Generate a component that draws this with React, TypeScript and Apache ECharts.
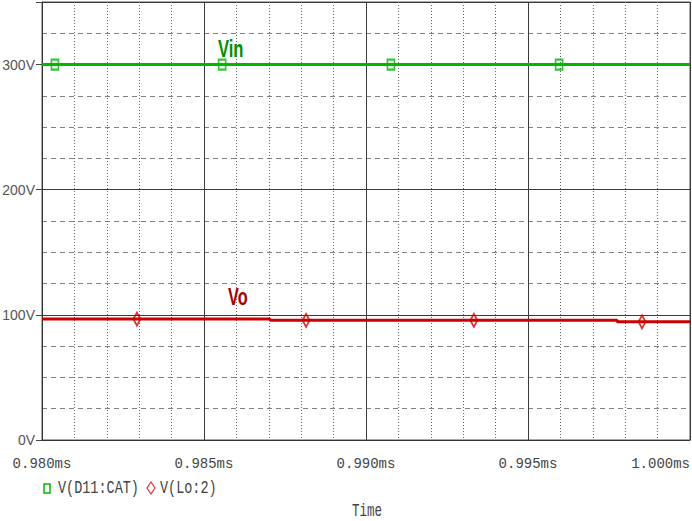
import React, { useEffect, useRef } from "react";
import * as echarts from "echarts";

// time in microseconds (0.980ms .. 1.000ms)
const xMin = 980;
const xMax = 1000;
const xTickStep = 5;
const yMin = 0;
const yMax = 350;
const yTickStep = 100;
const yMinorStep = 25;

// V(D11:CAT) — Vin
const vinLine: [number, number][] = [
  [980, 300],
  [1000, 300],
];
const vinMarkers: [number, number][] = [
  [980.4, 300],
  [985.56, 300],
  [990.77, 300],
  [995.96, 300],
];

// V(Lo:2) — Vo
const voLine: [number, number][] = [
  [980, 96.6],
  [987.04, 96.6],
  [987.04, 95.6],
  [997.75, 95.6],
  [997.75, 94.4],
  [1000, 94.4],
];
const voMarkers: [number, number][] = [
  [982.93, 96.6],
  [988.15, 95.6],
  [993.33, 95.6],
  [998.52, 94.4],
];

const legendNames = ["V(D11:CAT)", "V(Lo:2)"];
const xTitle = "Time";

const GREEN = "#00b800";
const RED = "#cc0000";

export default function App() {
  const ref = useRef<HTMLDivElement>(null);
  useEffect(() => {
    if (!ref.current) return;
    const chart = echarts.init(ref.current, undefined, { renderer: "svg" });
    const monoFont = "'Liberation Mono', 'DejaVu Sans Mono', monospace";
    const sansFont = "'Liberation Sans', Arial, sans-serif";
    chart.setOption({
      animation: false,
      backgroundColor: "#ffffff",
      grid: {
        left: 42,
        right: 2,
        top: 2,
        bottom: 81,
        show: true,
        borderColor: "#555555",
        borderWidth: 1,
        backgroundColor: "#ffffff",
        containLabel: false,
        outerBoundsMode: "none",
      },
      xAxis: {
        type: "value",
        min: xMin,
        max: xMax,
        interval: xTickStep,
        axisLine: { show: true, lineStyle: { color: "#333333", width: 1 } },
        axisTick: { show: false },
        axisLabel: {
          margin: 17,
          fontFamily: monoFont,
          fontSize: 14,
          color: "#444444",
          formatter: (v: number) => (v / 1000).toFixed(3) + "ms",
          showMinLabel: true,
          showMaxLabel: true,
          hideOverlap: false,
          alignMaxLabel: "right",
        },
        splitLine: { show: true, lineStyle: { color: "#3a3a3a", width: 1 } },
        minorTick: { show: false, splitNumber: 5 },
        minorSplitLine: {
          show: true,
          lineStyle: { color: "#666666", width: 1, type: [1, 2] },
        },
      },
      yAxis: [
        {
          type: "value",
          min: yMin,
          max: yMax,
          interval: yMinorStep,
          position: "left",
          axisLine: { show: false },
          axisTick: { show: false },
          axisLabel: { show: false },
          splitLine: {
            show: true,
            lineStyle: { color: "#808080", width: 1, type: [5, 4] },
          },
        },
        {
          type: "value",
          min: yMin,
          max: yMax,
          interval: yTickStep,
          position: "left",
          axisLine: { show: true, lineStyle: { color: "#333333", width: 1 } },
          axisTick: {
            show: true,
            length: 6,
            inside: false,
            lineStyle: { color: "#444444", width: 1 },
          },
          axisLabel: {
            margin: 7,
            fontFamily: sansFont,
            fontSize: 14,
            color: "#555555",
            formatter: (v: number) => (v % 100 === 0 ? v + "V" : ""),
          },
          splitLine: { show: true, lineStyle: { color: "#3a3a3a", width: 1 } },
        },
      ],
      series: [
        {
          name: legendNames[0],
          type: "line",
          yAxisIndex: 1,
          data: vinLine,
          showSymbol: false,
          lineStyle: { color: GREEN, width: 3 },
          z: 3,
        },
        {
          name: legendNames[0] + " markers",
          type: "scatter",
          yAxisIndex: 1,
          data: vinMarkers,
          symbol: "rect",
          symbolSize: [7, 10],
          itemStyle: { color: "rgba(0,0,0,0)", borderColor: GREEN, borderWidth: 2 },
          z: 4,
        },
        {
          name: legendNames[1],
          type: "line",
          yAxisIndex: 1,
          data: voLine,
          showSymbol: false,
          lineStyle: { color: RED, width: 3 },
          z: 3,
        },
        {
          name: legendNames[1] + " markers",
          type: "scatter",
          yAxisIndex: 1,
          data: voMarkers,
          symbol: "diamond",
          symbolSize: [7, 13],
          itemStyle: { color: "rgba(0,0,0,0)", borderColor: RED, borderWidth: 2 },
          z: 4,
        },
      ],
      graphic: [
        {
          type: "text",
          x: 218,
          y: 49,
          scaleX: 0.72,
          style: {
            text: "Vin",
            fill: "#009000",
            font: "bold 23px 'Liberation Sans', Arial, sans-serif",
            verticalAlign: "middle",
            textAlign: "left",
          },
          z: 10,
        },
        {
          type: "text",
          x: 228,
          y: 296,
          scaleX: 0.68,
          style: {
            text: "Vo",
            fill: "#a80000",
            font: "bold 24px 'Liberation Sans', Arial, sans-serif",
            verticalAlign: "middle",
            textAlign: "left",
          },
          z: 10,
        },
        {
          type: "rect",
          shape: { x: 44, y: 484, width: 6, height: 9 },
          style: { fill: "none", stroke: GREEN, lineWidth: 1.5 },
        },
        {
          type: "text",
          x: 58,
          y: 488,
          scaleX: 0.75,
          style: {
            text: legendNames[0],
            fill: "#444444",
            font: "18px 'Liberation Mono', 'DejaVu Sans Mono', monospace",
            verticalAlign: "middle",
            textAlign: "left",
          },
        },
        {
          type: "polygon",
          shape: {
            points: [
              [151, 482],
              [155, 488],
              [151, 494],
              [147, 488],
            ],
          },
          style: { fill: "none", stroke: "#e03030", lineWidth: 1.2 },
        },
        {
          type: "text",
          x: 160,
          y: 488,
          scaleX: 0.75,
          style: {
            text: legendNames[1],
            fill: "#444444",
            font: "18px 'Liberation Mono', 'DejaVu Sans Mono', monospace",
            verticalAlign: "middle",
            textAlign: "left",
          },
        },
        {
          type: "text",
          x: 367,
          y: 511,
          scaleX: 0.7,
          style: {
            text: xTitle,
            fill: "#444444",
            font: "18px 'Liberation Mono', 'DejaVu Sans Mono', monospace",
            verticalAlign: "middle",
            textAlign: "center",
          },
        },
      ],
    });
    return () => chart.dispose();
  }, []);
  return (
    <div
      ref={ref}
      style={{ position: "fixed", left: 0, top: 0, width: 692, height: 521 }}
    />
  );
}
